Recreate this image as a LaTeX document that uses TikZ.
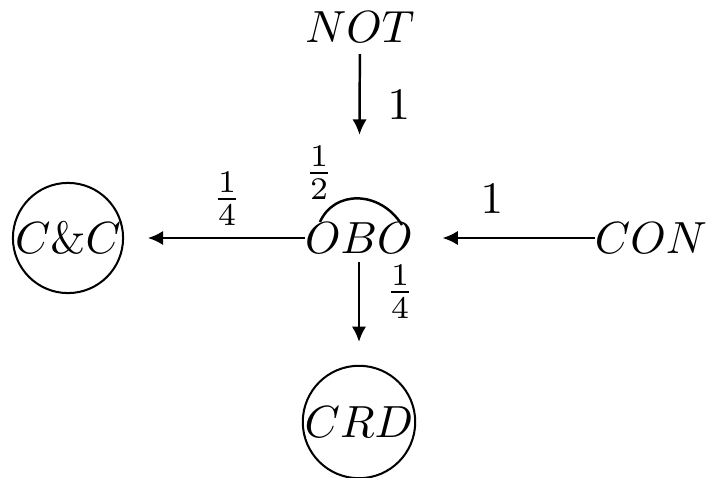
\documentclass[tikz,border=0pt]{standalone}
\usetikzlibrary{arrows.meta}
\begin{document}
\begin{tikzpicture}[x=0.222pt,y=-0.222pt,
  state/.style={inner sep=0pt,outer sep=0pt},
  cstate/.style={circle,draw,line width=0.45pt,inner sep=0pt,outer sep=0pt,minimum size=108*0.222pt},
  edge/.style={line width=0.55pt,-{Latex[length=3.4pt,width=3.2pt]}},
  lbl/.style={inner sep=0pt}]
\useasboundingbox (0,0) rectangle (707,478);
\node[state] (NOT) at (360,27) {$NOT$};
\node[state] (OBO) at (359,238) {$OBO$};
\node[state] (CON) at (651,238) {$CON$};
\node[cstate] (CC) at (68,238) {$C\&C$};
\node[cstate] (CRD) at (359,422) {$CRD$};
\draw[edge,shorten <=2.6pt,shorten >=19.5pt] (NOT) -- (OBO);
\draw[edge,shorten >=5.5pt] (OBO) -- (CC);
\draw[edge,shorten >=6.6pt] (CON) -- (OBO);
\draw[edge,shorten <=2pt,shorten >=5.3pt] (OBO) -- (CRD);
\coordinate (loopA) at ([shift={(-39,-16)}]OBO.center);
\coordinate (loopB) at ([shift={(43,-13)}]OBO.center);
\draw[line width=0.55pt] (loopA) .. controls ([shift={(14,-32)}]loopA) and ([shift={(-22,-35)}]loopB) .. (loopB);
\node[lbl] (l1) at (399,105) {$1$};
\node[lbl] (l2) at (227,199) {$\frac{1}{4}$};
\node[lbl] (l3) at (319,173) {$\frac{1}{2}$};
\node[lbl] (l4) at (492,199) {$1$};
\node[lbl] (l5) at (400,292) {$\frac{1}{4}$};
\end{tikzpicture}
\end{document}
